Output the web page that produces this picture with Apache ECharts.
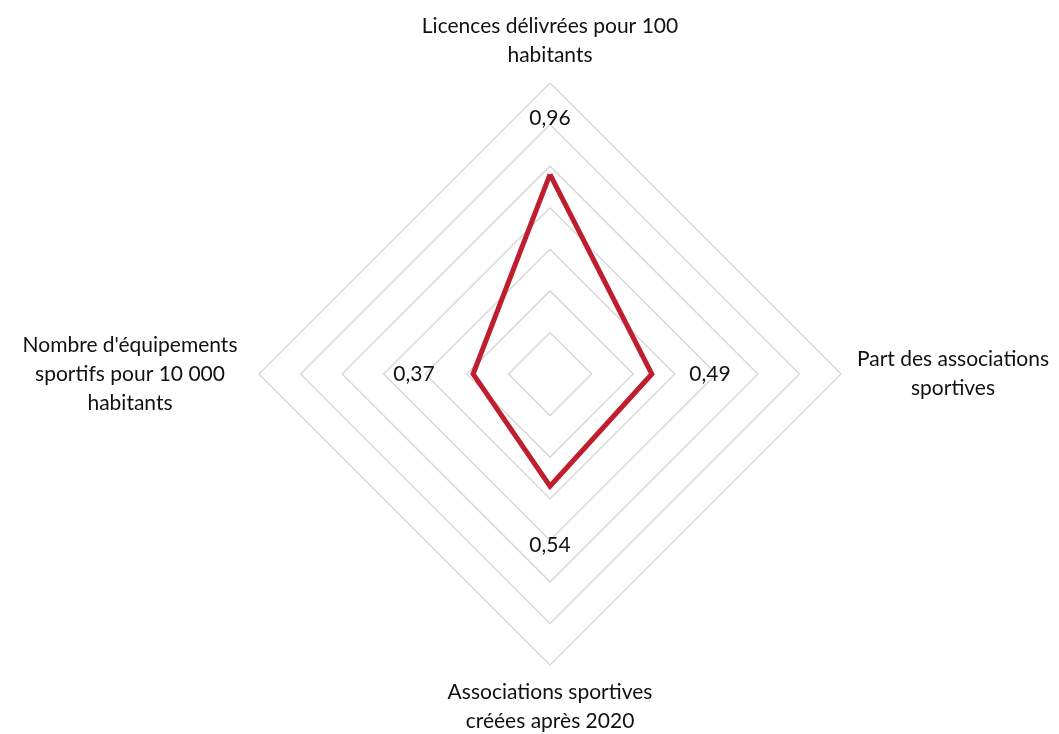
<!DOCTYPE html>
<html><head><meta charset="utf-8">
<script src="https://cdn.jsdelivr.net/npm/echarts@6/dist/echarts.min.js"></script>
<style>html,body{margin:0;padding:0;background:#fff}#c{width:1059px;height:734px}</style>
</head><body><div id="c"></div>
<script>
// Indicators listed counter-clockwise starting from the top (ECharts radar order)
const indicatorNames = [
  "Licences délivrées pour 100\nhabitants",
  "Nombre d'équipements\nsportifs pour 10 000\nhabitants",
  "Associations sportives\ncréées après 2020",
  "Part des associations\nsportives"
];
const values = [0.96, 0.37, 0.54, 0.49];
const axisMin = 0;
const axisMax = 1.4;
const splitCount = 7;

const FONT = 'Lato';
const FS = 21;
const labelPos = ['top', 'left', 'bottom', 'right'];
const labelDist = [45, 38, 48, 37];
const nameBoxW = [320, 232, 320, 198];
const fmt = v => String(v).replace('.', ',');

const rich = {};
nameBoxW.forEach((w, i) => {
  rich['n' + i] = { width: w, align: 'center', fontSize: FS, lineHeight: 29, fontFamily: FONT, color: '#111' };
});

const seriesData = [{
  value: values,
  symbol: 'none',
  lineStyle: { color: '#be1e2d', width: 5, join: 'miter' },
  label: { show: false }
}];
values.forEach((v, i) => {
  seriesData.push({
    value: values,
    symbol: 'circle',
    symbolSize: 1,
    itemStyle: { color: 'rgba(0,0,0,0)' },
    lineStyle: { width: 0, opacity: 0 },
    label: {
      show: true,
      position: labelPos[i],
      distance: labelDist[i],
      fontFamily: FONT,
      fontSize: FS,
      color: '#111',
      opacity: 1,
      formatter: p => {
        const hit = (p.dimensionIndex != null) ? p.dimensionIndex === i : p.value === values[i];
        return hit ? fmt(values[i]) : '';
      }
    }
  });
});

const chart = echarts.init(document.getElementById('c'));
chart.setOption({
  animation: false,
  backgroundColor: '#fff',
  radar: {
    center: [550, 374],
    radius: 291,
    startAngle: 90,
    splitNumber: splitCount,
    shape: 'polygon',
    indicator: indicatorNames.map(n => ({ name: n, min: axisMin, max: axisMax })),
    nameGap: 13,
    axisName: {
      fontFamily: FONT,
      fontSize: FS,
      color: '#111',
      formatter: (name) => '{n' + indicatorNames.indexOf(name) + '|' + name + '}',
      rich: rich
    },
    axisLine: { show: false },
    axisTick: { show: false },
    axisLabel: { show: false },
    splitLine: { lineStyle: { color: '#d9d9d9', width: 1.5 } },
    splitArea: { show: false }
  },
  series: [{
    type: 'radar',
    silent: true,
    data: seriesData
  }]
});
</script>
</body></html>
